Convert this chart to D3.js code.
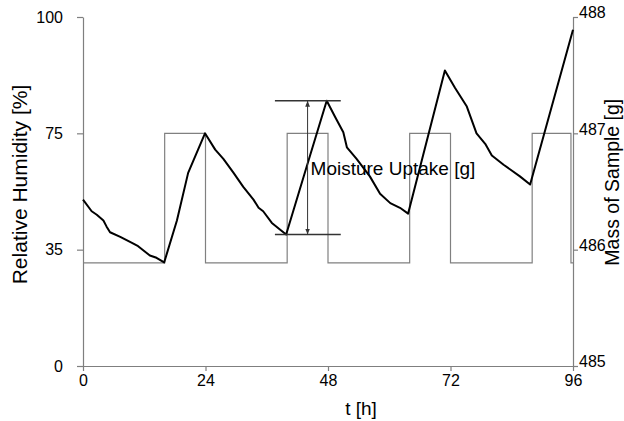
<!DOCTYPE html>
<html>
<head>
<meta charset="utf-8">
<script src="https://cdn.jsdelivr.net/npm/d3@7"></script>
<style>
    body { margin: 0; background: #fff; }
    text { font-family: "Liberation Sans", Arial, sans-serif; fill: #000; }
</style>
</head>
<body>
<svg id="chart" width="624" height="421"></svg>
<script>
// relative humidity program (step changes)
const rhTime = [0, 16, 24, 40, 48, 64, 72, 88, 95.6, 96];
const rhValue = [31, 75, 31, 75, 31, 75, 31, 75, 31, 31];

// sample mass
const massTime = [0, 1.7, 2.7, 4.0, 4.6, 5.3, 7.3, 9.5, 10.8, 13.1, 14.4, 15.9,
    18.4, 20.6, 23.9,
    25.9, 27.5, 29.5, 31.4, 33.4, 34.4, 35.3, 37.0, 39.8,
    43.8, 47.75,
    49.4, 51.0, 51.7, 53.6, 56.2, 58.2, 60.2, 62.1, 63.7,
    70.9,
    72.9, 75.2, 77.1, 78.8, 80.1, 82.4, 85.6, 87.6,
    96];
const massValue = [486.43, 486.33, 486.30, 486.25, 486.20, 486.15, 486.11, 486.06, 486.03, 485.95, 485.93, 485.89,
    486.25, 486.66, 487.00,
    486.86, 486.78, 486.66, 486.54, 486.43, 486.36, 486.33, 486.23, 486.13,
    486.71, 487.28,
    487.14, 487.01, 486.88, 486.78, 486.63, 486.48, 486.40, 486.36, 486.31,
    487.54,
    487.39, 487.23, 487.00, 486.91, 486.81, 486.73, 486.63, 486.56,
    487.89];

const xTicks = [0, 24, 48, 72, 96];
const rhTicks = [0, 35, 75, 100];
const massTicks = [485, 486, 487, 488];

// moisture uptake bracket between 40 h and 48 h
const bracketTime = [37.6, 50.5];
const arrowTime = 44;
const uptakeWindow = [39, 49];

const svg = d3.select('#chart');
const axisColor = '#7f7f7f';

const x = d3.scaleLinear().domain([0, 96]).range([83, 573]);
const yMass = d3.scaleLinear().domain([485, 488]).range([366, 17]);
// RH labels sit on the mass gridlines, so the scale is piecewise
const yRH = d3.scaleLinear().domain(rhTicks).range(rhTicks.map((d, i) => yMass(massTicks[i])));

function styleAxis(g) {
    g.selectAll('path, line').attr('stroke', axisColor).attr('stroke-width', 1.2);
    g.selectAll('text').attr('font-size', 16).attr('fill', '#000')
        .attr('font-family', '"Liberation Sans", Arial, sans-serif');
}

function drawAxes() {
    svg.append('g')
        .attr('transform', `translate(0,${yMass(485)})`)
        .call(d3.axisBottom(x).tickValues(xTicks).tickSize(5).tickSizeOuter(0).tickPadding(4))
        .call(styleAxis);

    svg.append('g')
        .attr('transform', `translate(${x(0)},0)`)
        .call(d3.axisLeft(yRH).tickValues(rhTicks).tickSize(6).tickSizeOuter(0).tickPadding(14))
        .call(styleAxis);

    const right = svg.append('g')
        .attr('transform', `translate(${x(96)},0)`)
        .call(d3.axisRight(yMass).tickValues(massTicks).tickFormat(d3.format('d'))
            .tickSize(5).tickSizeOuter(0).tickPadding(1))
        .call(styleAxis);
    right.selectAll('.tick text').attr('dy', '0.05em');
}

function drawSeries() {
    const rhData = rhTime.map((t, i) => ({ t, v: rhValue[i] }));
    const massData = massTime.map((t, i) => ({ t, v: massValue[i] }));

    svg.append('path')
        .datum(rhData)
        .attr('fill', 'none')
        .attr('stroke', '#808080')
        .attr('stroke-width', 1.2)
        .attr('d', d3.line().curve(d3.curveStepAfter).x(d => x(d.t)).y(d => yRH(d.v)));

    svg.append('path')
        .datum(massData)
        .attr('fill', 'none')
        .attr('stroke', '#000')
        .attr('stroke-width', 2)
        .attr('stroke-linejoin', 'round')
        .attr('d', d3.line().x(d => x(d.t)).y(d => yMass(d.v)));

    return massData;
}

function drawUptake(massData) {
    const win = massData.filter(d => d.t >= uptakeWindow[0] && d.t <= uptakeWindow[1]);
    const hi = d3.max(win, d => d.v);
    const lo = d3.min(win, d => d.v);

    const defs = svg.append('defs');
    defs.append('marker')
        .attr('id', 'arrow')
        .attr('viewBox', '0 0 10 10')
        .attr('refX', 10).attr('refY', 5)
        .attr('markerWidth', 6).attr('markerHeight', 6)
        .attr('orient', 'auto-start-reverse')
        .append('path')
        .attr('d', 'M0,1L10,5L0,9Z')
        .attr('fill', '#333');

    svg.selectAll('line.bracket')
        .data([hi, lo])
        .enter()
        .append('line')
        .attr('class', 'bracket')
        .attr('x1', x(bracketTime[0]))
        .attr('x2', x(bracketTime[1]))
        .attr('y1', d => yMass(d))
        .attr('y2', d => yMass(d))
        .attr('stroke', '#333')
        .attr('stroke-width', 1.5);

    svg.append('line')
        .attr('x1', x(arrowTime)).attr('x2', x(arrowTime))
        .attr('y1', yMass(hi)).attr('y2', yMass(lo))
        .attr('stroke', '#333')
        .attr('stroke-width', 1)
        .attr('marker-start', 'url(#arrow)')
        .attr('marker-end', 'url(#arrow)');

    svg.append('text')
        .attr('x', x(arrowTime) + 3)
        .attr('y', 175)
        .attr('font-size', 19)
        .text('Moisture Uptake [g]');
}

function drawTitles() {
    svg.append('text')
        .attr('transform', `translate(27,${yMass(486.56)}) rotate(-90)`)
        .attr('text-anchor', 'middle')
        .attr('font-size', 21)
        .text('Relative Humidity [%]');

    // baseline kept in from the edge so the descenders stay visible
    svg.append('text')
        .attr('transform', `translate(619,${yMass(486.58)}) rotate(-90)`)
        .attr('text-anchor', 'middle')
        .attr('font-size', 19.5)
        .text('Mass of Sample [g]');

    svg.append('text')
        .attr('x', x(48) + 33)
        .attr('y', 415)
        .attr('text-anchor', 'middle')
        .attr('font-size', 19)
        .text('t [h]');
}

drawAxes();
const massData = drawSeries();
drawUptake(massData);
drawTitles();
</script>
</body>
</html>
